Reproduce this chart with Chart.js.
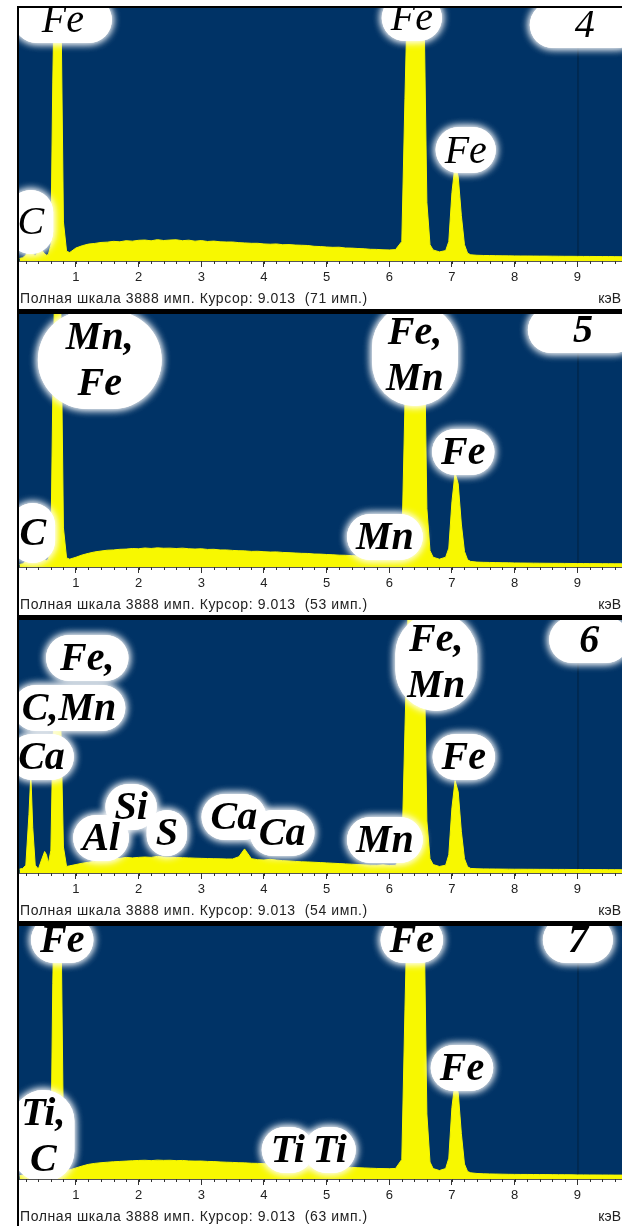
<!DOCTYPE html>
<html>
<head>
<meta charset="utf-8">
<script src="https://cdn.jsdelivr.net/npm/chart.js@4.4.1/dist/chart.umd.min.js"></script>
<style>
body { margin: 0; background: #fff; }
#frame { position: absolute; left: 17px; top: 6px; width: 603px; padding: 2px 0 2px 2px; background: #000; }
.panel { width: 603px; height: 301px; margin-bottom: 5px; }
.panel:last-child { margin-bottom: 0; }
canvas { display: block; }
</style>
</head>
<body>
<div id="frame">
  <div class="panel"><canvas id="c4" width="603" height="301"></canvas></div>
  <div class="panel"><canvas id="c5" width="603" height="301"></canvas></div>
  <div class="panel"><canvas id="c6" width="603" height="301"></canvas></div>
  <div class="panel"><canvas id="c7" width="603" height="301"></canvas></div>
</div>
<script>
// energy channels, keV
var energy = [
  0.10,0.15,0.20,0.25,0.28,0.31,0.35,0.40,0.45,0.50,0.53,0.56,0.60,0.63,0.66,0.70,0.73,0.76,0.80,0.85,0.90,
  1.0,1.1,1.2,1.3,1.4,1.5,1.6,1.7,1.8,1.9,
  2.0,2.1,2.2,2.3,2.4,2.5,2.6,2.7,2.8,2.9,
  3.0,3.1,3.2,3.3,3.4,3.5,3.6,3.69,3.8,3.9,
  4.0,4.1,4.2,4.3,4.4,4.5,4.6,4.7,4.8,4.9,
  5.0,5.1,5.2,5.3,5.4,5.5,5.6,5.7,5.8,5.9,
  6.0,6.1,6.2,6.25,6.3,6.35,6.4,6.45,6.5,6.55,6.6,6.65,6.7,
  6.8,6.9,6.95,7.0,7.05,7.1,7.15,7.2,7.25,7.3,7.4,7.5,7.6,7.7,7.8,7.9,
  8.0,8.1,8.2,8.3,8.4,8.5,8.6,8.7,8.8,8.9,
  9.0,9.1,9.2,9.3,9.4,9.5,9.6,9.7,9.8
];

// counts per channel for spectra 4..7
var spec4 = [
  40,50,90,200,230,120,80,150,170,110,90,100,250,2750,4500,5200,4800,4000,600,150,130,
  200,235,260,270,285,290,302,295,312,305,
  318,322,310,328,315,322,326,312,320,305,
  314,300,306,295,292,292,282,278,272,272,
  262,258,262,250,252,245,242,238,226,222,
  215,210,212,200,198,192,188,180,178,172,
  170,175,300,2500,4500,5600,6000,5800,5000,4200,900,250,170,
  140,160,300,1050,1480,1300,700,250,120,95,88,85,84,82,80,79,
  78,77,77,76,75,75,74,73,72,72,
  71,70,70,69,68,68,67,66,66
];
var spec5 = [
  40,50,80,180,220,130,90,120,140,110,100,120,280,2600,4300,5000,4600,3900,600,140,120,
  150,185,210,232,245,258,262,272,275,284,
  280,292,285,294,288,290,284,290,280,276,
  280,270,272,262,262,255,250,248,240,242,
  235,230,232,224,220,215,210,208,200,198,
  192,188,182,180,175,170,166,162,160,175,
  160,165,280,2500,4500,5500,6000,5700,5000,4200,900,250,150,
  120,150,290,1000,1450,1280,660,240,110,85,75,72,70,68,66,65,
  62,61,60,59,58,57,56,56,55,54,
  53,53,52,52,51,51,50,50,49
];
var spec6 = [
  60,70,120,900,1520,700,120,60,200,330,280,150,350,2000,2500,2600,2500,2200,400,100,110,
  130,150,165,180,195,215,215,225,240,232,
  240,245,240,255,245,240,238,235,232,228,
  225,222,220,218,215,215,250,370,220,205,
  200,210,198,190,185,178,172,170,165,160,
  155,150,145,140,135,130,125,120,118,125,
  115,118,250,2200,4000,5000,5500,5200,4600,3800,800,220,130,
  100,120,280,1000,1420,1250,640,220,95,70,65,63,62,61,60,59,
  58,58,57,57,56,56,55,55,55,54,
  54,53,53,52,52,51,51,50,50
];
var spec7 = [
  50,60,100,300,350,250,200,250,300,200,150,150,320,3000,4600,5300,4900,4100,650,160,140,
  170,200,225,240,250,258,265,270,275,280,
  285,288,282,290,286,288,282,285,278,275,
  276,270,268,262,258,255,250,248,242,240,
  236,232,230,225,220,240,215,210,225,200,
  195,190,186,182,178,174,170,166,162,160,
  158,162,300,2600,4700,5800,6200,6000,5300,4400,1000,260,160,
  130,160,320,1100,1500,1330,700,230,115,95,85,80,78,76,74,72,
  71,70,70,69,68,68,67,66,66,65,
  63,63,62,62,61,61,60,60,59
];

var fullScale = 3888;
var cursorKeV = 9.013;
var cursorCounts = [71, 53, 54, 63];
var axisTicks = [1, 2, 3, 4, 5, 6, 7, 8, 9];

// peak labels: text, energy (keV), counts level
var labels4 = [
  { t: 'Fe', e: 0.79, c: 3704, padX: 28 },
  { t: 'C', e: 0.28, c: 600, padY: 16 },
  { t: 'Fe', e: 6.36, c: 3735 },
  { t: 'Fe', e: 7.22, c: 1706 },
  { t: '4', e: 9.12, c: 3627, padX: 45 }
];
var labels5 = [
  { t: 'Mn,\nFe', e: 1.38, c: 3182, padX: 28, padY: 10 },
  { t: 'Fe,\nMn', e: 6.41, c: 3258, padX: 14, padY: 12 },
  { t: 'Fe', e: 7.18, c: 1768 },
  { t: 'Mn', e: 5.93, c: 461 },
  { t: 'C', e: 0.31, c: 523, padY: 14 },
  { t: '5', e: 9.09, c: 3643, padX: 45 }
];
var labels6 = [
  { t: 'Fe,', e: 1.18, c: 3305, padX: 14 },
  { t: 'C,Mn', e: 0.89, c: 2536 },
  { t: 'Ca', e: 0.45, c: 1783 },
  { t: 'Al', e: 1.40, c: 538 },
  { t: 'Si', e: 1.88, c: 1014 },
  { t: 'S', e: 2.45, c: 615 },
  { t: 'Ca', e: 3.52, c: 861 },
  { t: 'Ca', e: 4.29, c: 615 },
  { t: 'Mn', e: 5.93, c: 507 },
  { t: 'Fe,\nMn', e: 6.75, c: 3243, padX: 12, padY: 10 },
  { t: 'Fe', e: 7.19, c: 1783 },
  { t: '6', e: 9.19, c: 3581, padX: 30 }
];
var labels7 = [
  { t: 'Fe', e: 0.78, c: 3673 },
  { t: 'Fe', e: 6.36, c: 3673 },
  { t: 'Fe', e: 7.16, c: 1706 },
  { t: 'Ti,\nC', e: 0.48, c: 660 },
  { t: 'Ti', e: 4.38, c: 446 },
  { t: 'Ti', e: 5.05, c: 446 },
  { t: '7', e: 9.01, c: 3673, padX: 25 }
];

var BLUE = '#003366';
var YELLOW = '#f8f800';

var spectrumPlugin = {
  id: 'spectrum',
  beforeDraw: function (chart) {
    var ctx = chart.ctx, a = chart.chartArea;
    ctx.save();
    ctx.fillStyle = '#fff';
    ctx.fillRect(0, 0, chart.width, chart.height);
    ctx.fillStyle = BLUE;
    ctx.fillRect(a.left, a.top, a.right - a.left, a.bottom - a.top);
    ctx.restore();
  },
  beforeDatasetsDraw: function (chart) {
    var ctx = chart.ctx, a = chart.chartArea;
    var x = chart.scales.x.getPixelForValue(cursorKeV);
    ctx.save();
    ctx.strokeStyle = '#012a52';
    ctx.lineWidth = 2;
    ctx.beginPath();
    ctx.moveTo(x, a.top);
    ctx.lineTo(x, a.bottom);
    ctx.stroke();
    ctx.restore();
  },
  afterDatasetsDraw: function (chart, args, opts) {
    var ctx = chart.ctx, a = chart.chartArea;
    var xs = chart.scales.x, ys = chart.scales.y;
    var lh = 46;
    ctx.save();
    ctx.beginPath();
    ctx.rect(a.left, a.top, a.right - a.left, a.bottom - a.top);
    ctx.clip();
    ctx.font = opts.font;
    var boxes = opts.labels.map(function (l) {
      var lines = l.t.split('\n');
      var w = Math.max.apply(null, lines.map(function (s) { return ctx.measureText(s).width; }));
      return { l: l, lines: lines, w: w, h: lines.length * lh - 14,
        x: xs.getPixelForValue(l.e), y: ys.getPixelForValue(l.c) };
    });
    // white clouds behind the labels
    ctx.fillStyle = '#fff';
    ctx.shadowColor = '#fff';
    ctx.shadowBlur = 9;
    boxes.forEach(function (b) {
      var px = b.l.padX || 9, py = b.l.padY || 7;
      var bw = b.w + 2 * px, bh = b.h + 2 * py;
      for (var k = 0; k < 2; k++) {
        ctx.beginPath();
        ctx.roundRect(b.x - bw / 2, b.y - bh / 2, bw, bh, Math.min(bw, bh) / 2);
        ctx.fill();
      }
    });
    ctx.shadowBlur = 0;
    ctx.fillStyle = '#000';
    ctx.textAlign = 'center';
    ctx.textBaseline = 'middle';
    boxes.forEach(function (b) {
      var y0 = b.y - (b.lines.length - 1) * lh / 2;
      b.lines.forEach(function (s, i) {
        ctx.fillText(s, b.x, y0 + i * lh + 2);
      });
    });
    ctx.restore();
  },
  afterDraw: function (chart, args, opts) {
    var ctx = chart.ctx, a = chart.chartArea, xs = chart.scales.x;
    ctx.save();
    // minor ticks every 0.2 keV
    ctx.strokeStyle = '#333';
    ctx.lineWidth = 1;
    ctx.beginPath();
    for (var v = 0.2; v < xs.max; v += 0.2) {
      var x = Math.round(xs.getPixelForValue(v)) + 0.5;
      ctx.moveTo(x, a.bottom);
      ctx.lineTo(x, a.bottom + 3);
    }
    ctx.stroke();
    ctx.fillStyle = '#222';
    ctx.font = '14px "Liberation Sans", Arial, sans-serif';
    ctx.letterSpacing = '0.6px';
    ctx.textBaseline = 'alphabetic';
    ctx.textAlign = 'left';
    ctx.fillText('Полная шкала ' + fullScale + ' имп. Курсор: ' + cursorKeV.toFixed(3) +
      '  (' + opts.cursor + ' имп.)', a.left + 1, chart.height - 6);
    ctx.letterSpacing = '0px';
    ctx.textAlign = 'right';
    ctx.fillText('кэВ', chart.width - 1, chart.height - 6);
    ctx.restore();
  }
};

function drawSpectrum(canvasId, counts, labels, cursor, font) {
  var points = energy.map(function (e, i) { return { x: e, y: counts[i] }; });
  return new Chart(document.getElementById(canvasId), {
    type: 'line',
    data: {
      datasets: [{
        data: points,
        borderColor: YELLOW,
        backgroundColor: YELLOW,
        borderWidth: 1,
        pointRadius: 0,
        fill: 'origin',
        tension: 0
      }]
    },
    options: {
      responsive: false,
      animation: false,
      devicePixelRatio: 1,
      layout: { padding: 0 },
      plugins: {
        legend: { display: false },
        tooltip: { enabled: false },
        spectrum: { labels: labels, cursor: cursor, font: font }
      },
      scales: {
        x: {
          type: 'linear',
          min: 0.091,
          max: 9.714,
          afterBuildTicks: function (scale) {
            scale.ticks = axisTicks.map(function (v) { return { value: v }; });
          },
          afterFit: function (scale) { scale.height = 48; },
          ticks: {
            color: '#222',
            padding: 3,
            maxRotation: 0,
            autoSkip: false,
            font: { family: '"Liberation Sans", Arial, sans-serif', size: 13 }
          },
          grid: { drawOnChartArea: false, tickLength: 6, color: '#333' },
          border: { color: '#555' }
        },
        y: {
          display: false,
          min: 0,
          max: fullScale
        }
      }
    },
    plugins: [spectrumPlugin]
  });
}

var serifBold = 'italic bold 40px "Liberation Serif", "DejaVu Serif", serif';
var serifItalic = 'italic 40px "Liberation Serif", "DejaVu Serif", serif';

drawSpectrum('c4', spec4, labels4, cursorCounts[0], serifItalic);
drawSpectrum('c5', spec5, labels5, cursorCounts[1], serifBold);
drawSpectrum('c6', spec6, labels6, cursorCounts[2], serifBold);
drawSpectrum('c7', spec7, labels7, cursorCounts[3], serifBold);
</script>
</body>
</html>
